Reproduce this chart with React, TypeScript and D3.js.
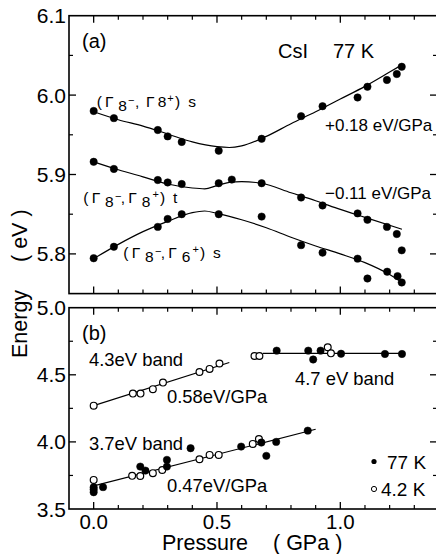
import React from "react";
import * as d3 from "d3";

// ---------- Panel (a): CsI 77 K exciton peaks ----------
const pUpper = [0, 0.082, 0.26, 0.30, 0.357, 0.507, 0.681, 0.841, 0.928, 1.07, 1.11, 1.189, 1.229, 1.249];
const eUpper = [5.980, 5.971, 5.956, 5.948, 5.941, 5.930, 5.945, 5.9735, 5.986, 5.997, 6.0105, 6.019, 6.0265, 6.0357];

const pMiddle = [0, 0.082, 0.26, 0.30, 0.357, 0.507, 0.56, 0.681, 0.841, 0.928, 1.07, 1.11, 1.189, 1.229, 1.249];
const eMiddle = [5.916, 5.907, 5.893, 5.890, 5.888, 5.889, 5.8936, 5.889, 5.871, 5.861, 5.851, 5.843, 5.834, 5.825, 5.8045];

const pLower = [0, 0.082, 0.26, 0.30, 0.357, 0.507, 0.681, 0.841, 0.928, 1.07, 1.11, 1.19, 1.232, 1.249];
const eLower = [5.7945, 5.809, 5.834, 5.844, 5.850, 5.850, 5.847, 5.811, 5.8015, 5.794, 5.769, 5.7776, 5.772, 5.764];

// fitted curves
const cUpperP = [0, 0.1, 0.2, 0.3, 0.4, 0.5, 0.55, 0.6, 0.7, 0.8, 0.9, 1.0, 1.1, 1.2, 1.255];
const cUpperE = [5.979, 5.969, 5.961, 5.951, 5.941, 5.935, 5.934, 5.936, 5.948, 5.964, 5.979, 5.995, 6.011, 6.029, 6.039];
const cMiddleP = [0, 0.1, 0.2, 0.3, 0.4, 0.45, 0.5, 0.55, 0.6, 0.68, 0.8, 0.9, 1.0, 1.1, 1.25];
const cMiddleE = [5.916, 5.906, 5.897, 5.888, 5.883, 5.882, 5.886, 5.890, 5.891, 5.889, 5.877, 5.867, 5.856, 5.846, 5.831];
const cLowerP = [0, 0.1, 0.2, 0.3, 0.4, 0.45, 0.5, 0.6, 0.7, 0.8, 0.9, 1.0, 1.1, 1.2, 1.26];
const cLowerE = [5.794, 5.812, 5.828, 5.841, 5.852, 5.854, 5.851, 5.843, 5.833, 5.821, 5.810, 5.800, 5.789, 5.774, 5.762];

// ---------- Panel (b): emission bands ----------
const p43Open = [0, 0.159, 0.19, 0.24, 0.281, 0.429, 0.47, 0.51];
const e43Open = [4.27, 4.360, 4.360, 4.393, 4.442, 4.521, 4.544, 4.584];
const fit43P = [0, 0.55];
const fit43E = [4.27, 4.592];

const p47Open = [0.652, 0.672, 0.949, 0.962];
const e47Open = [4.64, 4.64, 4.705, 4.66];
const p47Fill = [0.742, 0.870, 0.890, 0.920, 1.003, 1.181, 1.250];
const e47Fill = [4.68, 4.68, 4.614, 4.68, 4.657, 4.655, 4.655];
const fit47P = [0.686, 1.259];
const fit47E = [4.66, 4.66];

const p37Open = [0, 0.156, 0.189, 0.24, 0.278, 0.429, 0.47, 0.507, 0.645, 0.67];
const e37Open = [3.717, 3.747, 3.746, 3.767, 3.791, 3.871, 3.903, 3.903, 3.985, 4.022];
const p37Fill = [0, 0, 0, 0.038, 0.189, 0.21, 0.297, 0.297, 0.393, 0.598, 0.68, 0.70, 0.74, 0.868];
const e37Fill = [3.662, 3.645, 3.625, 3.663, 3.816, 3.786, 3.866, 3.816, 3.953, 3.965, 3.995, 3.896, 4.0, 4.084];
const fit37P = [0, 0.90];
const fit37E = [3.672, 4.094];

const xTicksMajor = [0, 0.5, 1.0];
const xTickLabels = ["0.0", "0.5", "1.0"];
const xTicksMinor = [0.1, 0.2, 0.3, 0.4, 0.6, 0.7, 0.8, 0.9, 1.1, 1.2, 1.3];
const yATicksMajor = [5.8, 5.9, 6.0, 6.1];
const yATickLabels = ["5.8", "5.9", "6.0", "6.1"];
const yATicksMinor = [5.85, 5.95, 6.05];
const yBTicksMajor = [3.5, 4.0, 4.5, 5.0];
const yBTickLabels = ["3.5", "4.0", "4.5", "5.0"];
const yBTicksMinor = [3.75, 4.25, 4.75];

const FONT = "'Liberation Sans', Arial, Helvetica, sans-serif";
const zip = (a: number[], b: number[]) => a.map((v, i) => [v, b[i]] as [number, number]);

export default function App() {
  const W = 436, H = 554;
  const x = d3.scaleLinear().domain([-0.1, 1.392]).range([69, 437]);
  const yA = d3.scaleLinear().domain([5.75, 6.1]).range([293.6, 15.7]);
  const yB = d3.scaleLinear().domain([3.5, 5.0]).range([509, 307.7]);
  const x0 = x(-0.1), x1 = x(1.392);

  const curveLine = (ys: d3.ScaleLinear<number, number>) =>
    d3.line<[number, number]>().x(d => x(d[0])).y(d => ys(d[1])).curve(d3.curveMonotoneX);

  const frame = (ys: d3.ScaleLinear<number, number>, yMaj: number[], yMin: number[]) => {
    const [lo, hi] = ys.domain();
    const top = ys(hi), bot = ys(lo);
    const els: React.ReactNode[] = [];
    els.push(<rect key="f" x={x0} y={top} width={x1 - x0} height={bot - top} fill="none" stroke="#000" strokeWidth={1.6} />);
    xTicksMajor.forEach((t, i) => {
      els.push(<line key={"xt" + i} x1={x(t)} x2={x(t)} y1={top} y2={top + 7} stroke="#000" strokeWidth={1.3} />);
      els.push(<line key={"xb" + i} x1={x(t)} x2={x(t)} y1={bot} y2={bot - 7} stroke="#000" strokeWidth={1.3} />);
    });
    xTicksMinor.forEach((t, i) => {
      els.push(<line key={"xmt" + i} x1={x(t)} x2={x(t)} y1={top} y2={top + 4} stroke="#000" strokeWidth={1.2} />);
      els.push(<line key={"xmb" + i} x1={x(t)} x2={x(t)} y1={bot} y2={bot - 4} stroke="#000" strokeWidth={1.2} />);
    });
    yMaj.forEach((t, i) => {
      els.push(<line key={"yl" + i} x1={x0} x2={x0 + 7} y1={ys(t)} y2={ys(t)} stroke="#000" strokeWidth={1.3} />);
      els.push(<line key={"yr" + i} x1={x1} x2={x1 - 7} y1={ys(t)} y2={ys(t)} stroke="#000" strokeWidth={1.3} />);
    });
    yMin.forEach((t, i) => {
      els.push(<line key={"yml" + i} x1={x0} x2={x0 + 4} y1={ys(t)} y2={ys(t)} stroke="#000" strokeWidth={1.2} />);
      els.push(<line key={"ymr" + i} x1={x1} x2={x1 - 4} y1={ys(t)} y2={ys(t)} stroke="#000" strokeWidth={1.2} />);
    });
    return els;
  };

  const dots = (ps: number[], es: number[], ys: d3.ScaleLinear<number, number>, open: boolean, key: string) =>
    ps.map((p, i) => (
      <circle key={key + i} cx={x(p)} cy={ys(es[i])} r={open ? 3.4 : 3.7}
        fill={open ? "#fff" : "#000"} stroke="#000" strokeWidth={open ? 1.2 : 0.5} />
    ));

  // Gamma-point labels: (Γ8⁻, Γ8⁺) etc., glyphs placed at measured offsets
  const gLabel = (lx: number, ly: number, s1: string, s2: string, lower2: boolean, tail: string, off: number[]) => {
    const sub = 3.5;
    return (
      <g fontFamily={FONT} fontSize={15.5}>
        <text x={lx + off[0]} y={ly}>(</text>
        <text x={lx + off[1]} y={ly}>Γ</text>
        <text x={lx + off[2]} y={ly + sub}>{s1}</text>
        <text x={lx + off[3]} y={ly - 3.5} fontSize={11}>−</text>
        <text x={lx + off[4]} y={ly}>,</text>
        <text x={lx + off[5]} y={ly}>Γ</text>
        <text x={lx + off[6]} y={ly + (lower2 ? sub : 0)}>{s2}</text>
        <text x={lx + off[7]} y={ly - 5} fontSize={11}>+</text>
        <text x={lx + off[8]} y={ly}>)</text>
        <text x={lx + off[9]} y={ly}>{tail}</text>
      </g>
    );
  };
  const offUpper = [0, 8.3, 21.6, 31.3, 38.3, 49.3, 61, 70.6, 78.3, 91.6];
  const offLow = [0, 8.4, 21.7, 31.7, 37.5, 45, 58.4, 69.2, 76.7, 89.7];

  return (
    <svg width={W} height={H} style={{ position: "absolute", left: 0, top: 0, background: "#fff" }} fontFamily={FONT}>
      <rect x={0} y={0} width={W} height={H} fill="#fff" />
      {/* frames */}
      {frame(yA, [5.8, 5.9, 6.0], yATicksMinor)}
      {frame(yB, [4.0, 4.5], yBTicksMinor)}

      {/* y tick labels */}
      {yATicksMajor.map((t, i) => (
        <text key={"yal" + i} x={66} y={yA(t) + 7.5} textAnchor="end" fontSize={21}>{yATickLabels[i]}</text>
      ))}
      {yBTicksMajor.map((t, i) => (
        <text key={"ybl" + i} x={66} y={yB(t) + 7.5} textAnchor="end" fontSize={21}>{yBTickLabels[i]}</text>
      ))}
      {/* x tick labels */}
      {xTicksMajor.map((t, i) => (
        <text key={"xl" + i} x={x(t)} y={528.5} textAnchor="middle" fontSize={20.5}>{xTickLabels[i]}</text>
      ))}

      {/* axis titles */}
      <text x={162} y={549.5} fontSize={21.5}>Pressure</text>
      <text x={273} y={549.5} fontSize={21.5}>( GPa )</text>
      <text transform="translate(27,358) rotate(-90)" fontSize={21.5}>Energy</text>
      <text transform="translate(27,262) rotate(-90)" fontSize={21.5}>( eV )</text>

      {/* panel a curves */}
      <path d={curveLine(yA)(zip(cUpperP, cUpperE)) || ""} fill="none" stroke="#000" strokeWidth={1.2} />
      <path d={curveLine(yA)(zip(cMiddleP, cMiddleE)) || ""} fill="none" stroke="#000" strokeWidth={1.2} />
      <path d={curveLine(yA)(zip(cLowerP, cLowerE)) || ""} fill="none" stroke="#000" strokeWidth={1.2} />
      {dots(pUpper, eUpper, yA, false, "u")}
      {dots(pMiddle, eMiddle, yA, false, "m")}
      {dots(pLower, eLower, yA, false, "l")}

      <text x={82} y={48} fontSize={20}>(a)</text>
      <text x={278} y={58} fontSize={20}>CsI</text>
      <text x={333} y={58} fontSize={20}>77 K</text>
      {gLabel(96.7, 107, "8", "8", false, "s", offUpper)}
      {gLabel(83.3, 203.3, "8", "8", true, "t", offLow)}
      {gLabel(123.3, 258.3, "8", "6", true, "s", offLow)}
      <text x={325} y={131} fontSize={17}>+0.18 eV/GPa</text>
      <text x={325} y={199} fontSize={17}>−0.11 eV/GPa</text>

      {/* panel b */}
      <path d={curveLine(yB)(zip(fit43P, fit43E)) || ""} fill="none" stroke="#000" strokeWidth={1.2} />
      <path d={curveLine(yB)(zip(fit47P, fit47E)) || ""} fill="none" stroke="#000" strokeWidth={1.2} />
      <path d={curveLine(yB)(zip(fit37P, fit37E)) || ""} fill="none" stroke="#000" strokeWidth={1.2} />
      {dots(p43Open, e43Open, yB, true, "a")}
      {dots(p47Fill, e47Fill, yB, false, "b")}
      {dots(p47Open, e47Open, yB, true, "c")}
      {dots(p37Open, e37Open, yB, true, "d")}
      {dots(p37Fill, e37Fill, yB, false, "e")}

      <text x={82} y={340} fontSize={20}>(b)</text>
      <text x={89} y={366} fontSize={18.4}>4.3eV band</text>
      <text x={167} y={403} fontSize={18.4}>0.58eV/GPa</text>
      <text x={295} y={385} fontSize={18.4}>4.7 eV band</text>
      <text x={89} y={450} fontSize={18.4}>3.7eV band</text>
      <text x={167} y={492} fontSize={18.4}>0.47eV/GPa</text>

      {/* legend */}
      <circle cx={374} cy={461.5} r={2.6} fill="#000" />
      <text x={387} y={469} fontSize={19}>77 K</text>
      <circle cx={374} cy={489} r={2.6} fill="#fff" stroke="#000" strokeWidth={1} />
      <text x={381} y={496} fontSize={19}>4.2 K</text>
    </svg>
  );
}
